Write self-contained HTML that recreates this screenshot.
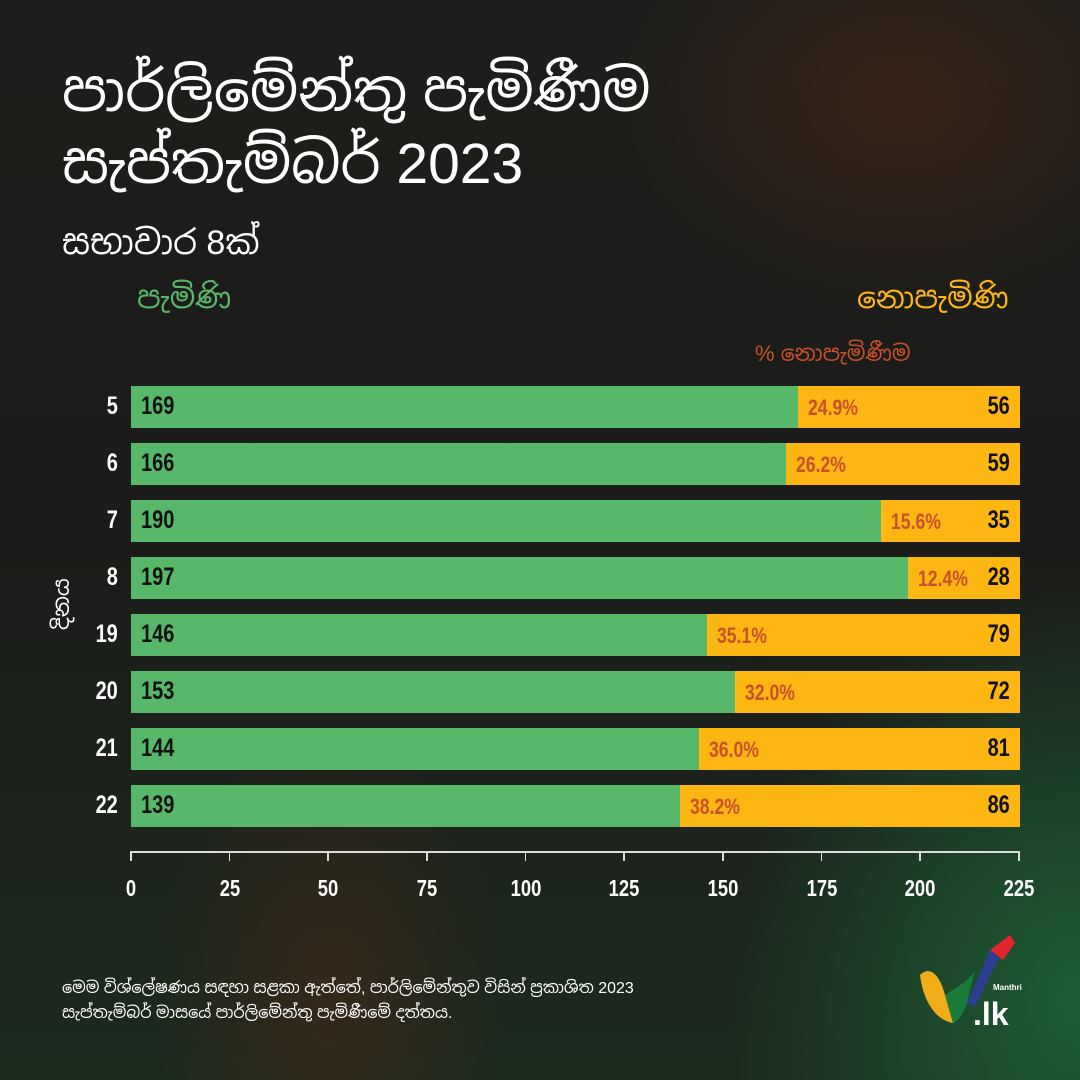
<!DOCTYPE html>
<html><head><meta charset="utf-8">
<style>
body{margin:0;width:1080px;height:1080px;overflow:hidden;font-family:"Liberation Sans",sans-serif}
#bg{position:absolute;left:0;top:0;width:1080px;height:1080px;
background:
radial-gradient(ellipse 500px 600px at 1080px 1000px, rgba(30,110,60,0.75), rgba(30,110,60,0) 70%),
radial-gradient(ellipse 400px 300px at 900px 100px, rgba(90,40,20,0.45), rgba(0,0,0,0) 70%),
radial-gradient(ellipse 250px 400px at 330px 1000px, rgba(100,40,20,0.35), rgba(0,0,0,0) 70%),
linear-gradient(180deg,#1d1e1b 0%,#1b1c19 50%,#1c2a1e 100%);}
.a{position:absolute;white-space:nowrap}
.n{font-family:"Liberation Sans Narrow","Liberation Sans",sans-serif;font-weight:bold}
.g{position:absolute;height:42px;background:#58b869}
.o{position:absolute;height:42px;background:#feb612}
.si{font-family:"Liberation Sans","Noto Sans Sinhala","Iskoola Pota","DejaVu Sans",sans-serif}
</style></head><body>
<div id="bg"></div>
<div class="a si" style="left:62px;top:56px;font-size:57px;color:#fff;line-height:72px">පාර්ලිමේන්තු පැමිණීම<br>සැප්තැම්බර් 2023</div>
<div class="a si" style="left:62px;top:220px;font-size:34px;color:#fff">සභාවාර 8ක්</div>
<div class="a si" style="left:137px;top:278px;font-size:30px;color:#58b869">පැමිණි</div>
<div class="a si" style="left:857px;top:278px;font-size:30px;color:#feb612">නොපැමිණි</div>
<div class="a si" style="left:755px;top:340px;font-size:22px;color:#c8502a">% නොපැමිණීම</div>
<div class="a si" style="left:48px;top:630px;font-size:22px;color:#fff;transform:rotate(-90deg);transform-origin:left top">දිනය</div>
<div id="bars"></div>
<div class="a" style="left:131px;top:851px;width:889px;height:2px;background:#ddd"></div>
<div id="ticks"></div>
<div class="a si" style="left:62px;top:976px;font-size:16px;color:#fff;line-height:25px">මෙම විශ්ලේෂණය සඳහා සළකා ඇත්තේ, පාර්ලිමේන්තුව විසින් ප්‍රකාශිත 2023<br>සැප්තැම්බර් මාසයේ පාර්ලිමේන්තු පැමිණීමේ දත්තය.</div>
<svg class="a" style="left:915px;top:935px" width="110" height="95" viewBox="0 0 110 95">
<path d="M5 40 C15 30 25 40 30 60 L38 88 C20 85 8 65 5 40Z" fill="#f0ad1a"/>
<path d="M30 60 L38 88 C45 85 50 75 52 68 L60 35 C55 45 45 50 30 60Z" fill="#1a7a3a"/>
<path d="M52 68 L75 15 L90 10 L60 72Z" fill="#2c3e8f"/>
<path d="M75 15 L95 0 L100 8 L88 25 Z" fill="#e0262a"/>
<text x="78" y="55" font-family="Liberation Sans" font-size="8" font-weight="bold" fill="#fff">Manthri</text>
<text x="58" y="90" font-family="Liberation Sans" font-size="32" font-weight="bold" fill="#fff">.lk</text>
</svg>
<script>
var rows=[[5,169,56,"24.9"],[6,166,59,"26.2"],[7,190,35,"15.6"],[8,197,28,"12.4"],[19,146,79,"35.1"],[20,153,72,"32.0"],[21,144,81,"36.0"],[22,139,86,"38.2"]];
var k=888/225,h="";
rows.forEach(function(r,i){var y=386+57*i,x=131+r[1]*k;
h+='<div class="g" style="left:131px;top:'+y+'px;width:'+(x-131)+'px"></div>';
h+='<div class="o" style="left:'+x+'px;top:'+y+'px;width:'+(1020-x)+'px"></div>';
h+='<div class="a n" style="right:962px;top:'+(y+6)+'px;font-size:25px;color:#fff;transform:scaleX(0.8);transform-origin:right">'+r[0]+'</div>';
h+='<div class="a n" style="left:141px;top:'+(y+6)+'px;font-size:25px;color:#111;transform:scaleX(0.8);transform-origin:left">'+r[1]+'</div>';
h+='<div class="a n" style="left:'+(x+10)+'px;top:'+(y+9)+'px;font-size:22px;color:#c8502a;transform:scaleX(0.8);transform-origin:left">'+r[3]+'%</div>';
h+='<div class="a n" style="right:70px;top:'+(y+6)+'px;font-size:25px;color:#111;transform:scaleX(0.8);transform-origin:right">'+r[2]+'</div>';});
document.getElementById('bars').innerHTML=h;
var t="";for(var v=0;v<=225;v+=25){var x=131+v*k;
t+='<div class="a" style="left:'+(x-1)+'px;top:851px;width:1.5px;height:10px;background:#ddd"></div>';
t+='<div class="a n" style="left:'+(x-30)+'px;width:60px;text-align:center;top:875px;font-size:23px;color:#fff;transform:scaleX(0.8)">'+v+'</div>';}
document.getElementById('ticks').innerHTML=t;
</script>
</body></html>
